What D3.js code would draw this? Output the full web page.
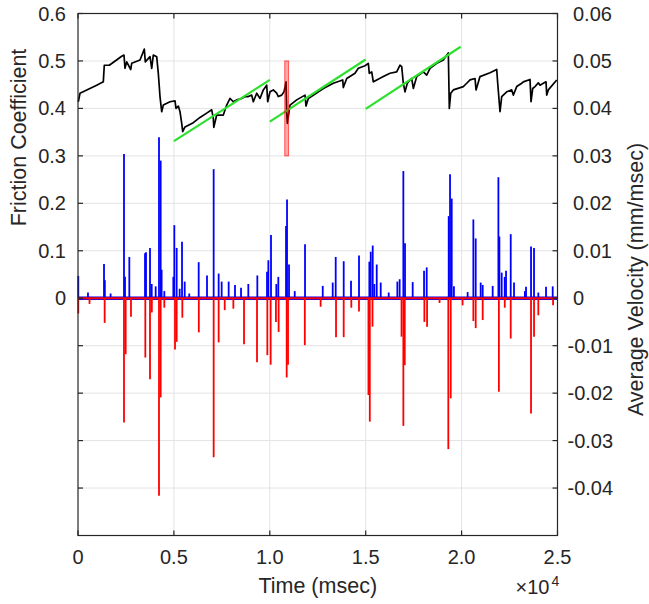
<!DOCTYPE html>
<html>
<head>
<meta charset="utf-8">
<script src="https://cdn.jsdelivr.net/npm/d3@7"></script>
<style>
  html, body { margin: 0; padding: 0; background: #fff; overflow: hidden; }
  svg { display: block; }
  text { font-family: "Liberation Sans", Arial, sans-serif; fill: #262626; }
</style>
</head>
<body>
<div id="chart"></div>
<script>
// friction coefficient trace [time msec, friction]
const friction = [
  [16,0.414],[104,0.432],[975,0.449],[1319,0.456],[1371,0.491],[1632,0.491],[2279,0.510],[2398,0.5125],
  [2450,0.4845],[2539,0.498],[2748,0.482],[2800,0.495],[3233,0.502],[3457,0.525],[3509,0.498],[3754,0.509],
  [3843,0.4845],[3926,0.5125],[4103,0.509],[4187,0.474],[4275,0.425],[4364,0.393],[4448,0.407],[4797,0.414],
  [5058,0.416],[5110,0.400],[5230,0.405],[5318,0.393],[5407,0.3686],[5459,0.351],[5579,0.361],[6012,0.370],
  [6361,0.381],[6710,0.390],[6971,0.397],[7055,0.379],[7081,0.360],[7231,0.386],[7576,0.386],[7753,0.407],
  [7925,0.421],[8098,0.414],[8275,0.418],[8535,0.421],[8708,0.425],[8880,0.425],[9057,0.428],[9140,0.414],
  [9317,0.432],[9490,0.421],[9662,0.439],[9839,0.449],[9891,0.414],[10011,0.435],[10183,0.439],[10360,0.432],
  [10444,0.425],[10621,0.428],[10741,0.435],[10846,0.456],[10882,0.390],[10913,0.3686],[11054,0.407],[11403,0.418],
  [11836,0.428],[11888,0.405],[12008,0.421],[12790,0.442],[13311,0.453],[13801,0.460],[13833,0.444],[14010,0.463],
  [14443,0.474],[14615,0.4845],[14964,0.490],[15137,0.495],[15189,0.474],[15314,0.477],[15397,0.456],[15575,0.460],
  [15919,0.467],[16268,0.474],[16617,0.477],[16789,0.491],[16878,0.488],[16961,0.453],[17050,0.435],[17170,0.453],
  [17400,0.463],[17483,0.442],[17660,0.467],[18004,0.477],[18181,0.470],[18353,0.4845],[18703,0.495],[19047,0.502],
  [19308,0.517],[19360,0.400],[19433,0.432],[19569,0.439],[20090,0.446],[20267,0.453],[20439,0.460],[20700,0.463],
  [20752,0.439],[20960,0.467],[21482,0.475],[21831,0.482],[21883,0.453],[22003,0.393],[22091,0.425],[22352,0.435],
  [22612,0.439],[22696,0.428],[22873,0.446],[23134,0.453],[23217,0.456],[23567,0.461],[23620,0.414],[23708,0.442],
  [23828,0.446],[24000,0.454],[24089,0.449],[24261,0.453],[24402,0.456],[24438,0.428],[24522,0.439],[24960,0.460]
];

// positive velocity peaks [time, mm/msec]
const velUp = [
  [16,0.0047],[520,0.0012],[1356,0.0072],[1400,0.0038],[1700,0.001],[2398,0.0304],[2450,0.0045],[2676,0.0087],
  [3494,0.0095],[3546,0.0097],[3754,0.0106],[3843,0.003],[4050,0.0025],[4223,0.0339],[4310,0.029],[4360,0.006],
  [4500,0.0015],[4970,0.0045],[5022,0.0154],[5144,0.0106],[5300,0.002],[5423,0.0119],[5563,0.0035],[5800,0.001],
  [6292,0.0076],[6726,0.0048],[7073,0.0272],[7333,0.0052],[7490,0.0035],[7855,0.0035],[8185,0.0028],[8500,0.0022],
  [8880,0.003],[9350,0.0048],[9855,0.0056],[9924,0.008],[10063,0.0133],[10340,0.003],[10444,0.0045],[10846,0.0152],
  [10898,0.0208],[11002,0.0071],[11300,0.0015],[11836,0.0114],[12760,0.0026],[13280,0.0033],[13436,0.0087],[13853,0.0078],
  [14234,0.0037],[14651,0.009],[15190,0.0077],[15262,0.0098],[15366,0.0111],[15450,0.003],[15575,0.0071],[15783,0.0033],
  [16200,0.0012],[16650,0.0035],[16770,0.004],[16963,0.0268],[17050,0.0116],[17450,0.0034],[18042,0.0058],[18180,0.0065],
  [19328,0.0173],[19397,0.0261],[19485,0.021],[19600,0.0025],[20315,0.0013],[20613,0.0166],[20735,0.0126],[20995,0.0033],
  [21100,0.0028],[21620,0.0026],[21918,0.0255],[21970,0.013],[22091,0.0054],[22248,0.0045],[22317,0.0058],[22561,0.0135],
  [22733,0.0033],[23300,0.0015],[23359,0.0024],[23620,0.0109],[23776,0.0106],[24000,0.0012],[24402,0.0024],[24750,0.0025]
];

// negative velocity troughs [time, mm/msec]
const velDown = [
  [16,-0.0032],[600,-0.0012],[1390,-0.0052],[2398,-0.0262],[2485,-0.0118],[2762,-0.0039],[3510,-0.0125],[3754,-0.0171],
  [3850,-0.003],[4223,-0.0416],[4310,-0.0209],[4500,-0.002],[5058,-0.0108],[5144,-0.0092],[5440,-0.0041],[6299,-0.0072],
  [7073,-0.0335],[7333,-0.0093],[7650,-0.0025],[8100,-0.0022],[8656,-0.0097],[9333,-0.0135],[9872,-0.012],[10045,-0.014],
  [10320,-0.005],[10460,-0.0071],[10880,-0.0167],[10950,-0.014],[11826,-0.0099],[12650,-0.0018],[13453,-0.0082],[13853,-0.0082],
  [14250,-0.002],[14650,-0.0028],[15143,-0.0204],[15214,-0.026],[15355,-0.006],[16868,-0.0081],[16963,-0.0269],[17036,-0.0141],
  [18059,-0.005],[18200,-0.006],[18850,-0.001],[19307,-0.0318],[19433,-0.0211],[20050,-0.0015],[20613,-0.0048],[20735,-0.0063],
  [21100,-0.0046],[21944,-0.0197],[22250,-0.002],[22561,-0.0085],[23620,-0.0243],[23776,-0.0081],[24000,-0.0036],[24770,-0.0015]
];

// green fit lines [t0, f0, t1, f1]
const fitLines = [[5000,0.331,10000,0.460],[10000,0.372,15000,0.503],[15000,0.399,19950,0.530]];
// highlighted slip window [t0, t1, f0, f1]
const slipWindow = [10780, 10980, 0.30, 0.50];

const xTicks = [0, 5000, 10000, 15000, 20000, 25000];
const xTickLabels = ["0", "0.5", "1.0", "1.5", "2.0", "2.5"];
const leftTicks = [-0.4, -0.3, -0.2, -0.1, 0, 0.1, 0.2, 0.3, 0.4, 0.5, 0.6];
const rightTicks = [-0.04, -0.03, -0.02, -0.01, 0, 0.01, 0.02, 0.03, 0.04, 0.05, 0.06];

const width = 649, height = 604;
const margin = { top: 13.5, right: 91.5, bottom: 68.5, left: 78 };
const innerWidth = width - margin.left - margin.right;
const innerHeight = height - margin.top - margin.bottom;

const svg = d3.select("#chart").append("svg").attr("width", width).attr("height", height);
const g = svg.append("g").attr("transform", `translate(${margin.left},${margin.top})`);

const x = d3.scaleLinear().domain([0, 25000]).range([0, innerWidth]);
const yL = d3.scaleLinear().domain([-0.5, 0.6]).range([innerHeight, 0]);
const yR = d3.scaleLinear().domain([-0.05, 0.06]).range([innerHeight, 0]);

// Grid
g.append("g").selectAll("line").data(leftTicks.filter(d => d < 0.6)).enter().append("line")
  .attr("x1", 0).attr("x2", innerWidth).attr("y1", d => yL(d)).attr("y2", d => yL(d))
  .attr("stroke", "#e3e3e3").attr("stroke-width", 1);
g.append("g").selectAll("line").data(xTicks.slice(1, -1)).enter().append("line")
  .attr("x1", d => x(d)).attr("x2", d => x(d)).attr("y1", 0).attr("y2", innerHeight)
  .attr("stroke", "#e3e3e3").attr("stroke-width", 1);

// Velocity (right axis)
g.append("line").attr("x1", x(0)).attr("x2", x(25000)).attr("y1", yR(0)).attr("y2", yR(0))
  .attr("stroke", "#0000ff").attr("stroke-width", 3.5);
g.append("g").selectAll("line").data(velUp).enter().append("line")
  .attr("x1", d => x(d[0])).attr("x2", d => x(d[0])).attr("y1", yR(0)).attr("y2", d => yR(d[1]))
  .attr("stroke", "#0000ff").attr("stroke-width", 1.8);
g.append("line").attr("x1", x(0)).attr("x2", x(25000)).attr("y1", yR(0)).attr("y2", yR(0))
  .attr("stroke", "#ff0000").attr("stroke-width", 2.2);
g.append("g").selectAll("line").data(velDown).enter().append("line")
  .attr("x1", d => x(d[0])).attr("x2", d => x(d[0])).attr("y1", yR(0)).attr("y2", d => yR(d[1]))
  .attr("stroke", "#ff0000").attr("stroke-width", 1.8);

// Friction (left axis)
g.append("path").datum(friction)
  .attr("d", d3.line().x(d => x(d[0])).y(d => yL(d[1])))
  .attr("fill", "none").attr("stroke", "#000").attr("stroke-width", 1.7).attr("stroke-linejoin", "round");

g.append("g").selectAll("line").data(fitLines).enter().append("line")
  .attr("x1", d => x(d[0])).attr("y1", d => yL(d[1])).attr("x2", d => x(d[2])).attr("y2", d => yL(d[3]))
  .attr("stroke", "#2ee02e").attr("stroke-width", 2.2);

g.append("rect")
  .attr("x", x(slipWindow[0])).attr("width", x(slipWindow[1]) - x(slipWindow[0]))
  .attr("y", yL(slipWindow[3])).attr("height", yL(slipWindow[2]) - yL(slipWindow[3]))
  .attr("fill", "rgba(255,0,0,0.35)").attr("stroke", "rgba(255,0,0,0.6)").attr("stroke-width", 1);

// Box + ticks
const axisColor = "#262626";
g.append("rect").attr("width", innerWidth).attr("height", innerHeight)
  .attr("fill", "none").attr("stroke", axisColor).attr("stroke-width", 1.2);
const tl = 5;
xTicks.forEach(t => {
  g.append("line").attr("x1", x(t)).attr("x2", x(t)).attr("y1", innerHeight).attr("y2", innerHeight - tl).attr("stroke", axisColor).attr("stroke-width", 1.2);
  g.append("line").attr("x1", x(t)).attr("x2", x(t)).attr("y1", 0).attr("y2", tl).attr("stroke", axisColor).attr("stroke-width", 1.2);
});
leftTicks.forEach(t => {
  g.append("line").attr("x1", 0).attr("x2", tl).attr("y1", yL(t)).attr("y2", yL(t)).attr("stroke", axisColor).attr("stroke-width", 1.2);
});
rightTicks.forEach(t => {
  g.append("line").attr("x1", innerWidth).attr("x2", innerWidth - tl).attr("y1", yR(t)).attr("y2", yR(t)).attr("stroke", axisColor).attr("stroke-width", 1.2);
});

// Tick labels
const tickFont = 20;
g.append("g").selectAll("text").data(xTicks).enter().append("text")
  .attr("x", d => x(d)).attr("y", innerHeight + 28).attr("text-anchor", "middle")
  .style("font-size", tickFont + "px").text((d, i) => xTickLabels[i]);
g.append("g").selectAll("text").data(leftTicks.filter(d => d >= 0)).enter().append("text")
  .attr("x", -12).attr("y", d => yL(d) + 7).attr("text-anchor", "end")
  .style("font-size", tickFont + "px")
  .text(d => d === 0 ? "0" : d3.format(".1f")(d));
g.append("g").selectAll("text").data(rightTicks).enter().append("text")
  .attr("x", d => innerWidth + (d < 0 ? 10 : 15.5)).attr("y", d => yR(d) + 7)
  .style("font-size", tickFont + "px")
  .text(d => d === 0 ? "0" : d3.format(".2f")(d).replace("−", "-"));

// Axis labels
const labelFont = 21.5;
g.append("text").attr("x", innerWidth / 2).attr("y", innerHeight + 57).attr("text-anchor", "middle")
  .style("font-size", labelFont + "px").text("Time (msec)");
g.append("text").attr("transform", `translate(${-52},${124}) rotate(-90)`).attr("text-anchor", "middle")
  .style("font-size", labelFont + "px").text("Friction Coefficient");
g.append("text").attr("transform", `translate(${innerWidth + 85},${266}) rotate(-90)`).attr("text-anchor", "middle")
  .style("font-size", labelFont + "px").text("Average Velocity (mm/msec)");

// x exponent
g.append("text").attr("x", innerWidth - 42).attr("y", innerHeight + 58)
  .style("font-size", tickFont + "px").text("×10");
g.append("text").attr("x", innerWidth - 6).attr("y", innerHeight + 50)
  .style("font-size", "14px").text("4");
</script>
</body>
</html>
